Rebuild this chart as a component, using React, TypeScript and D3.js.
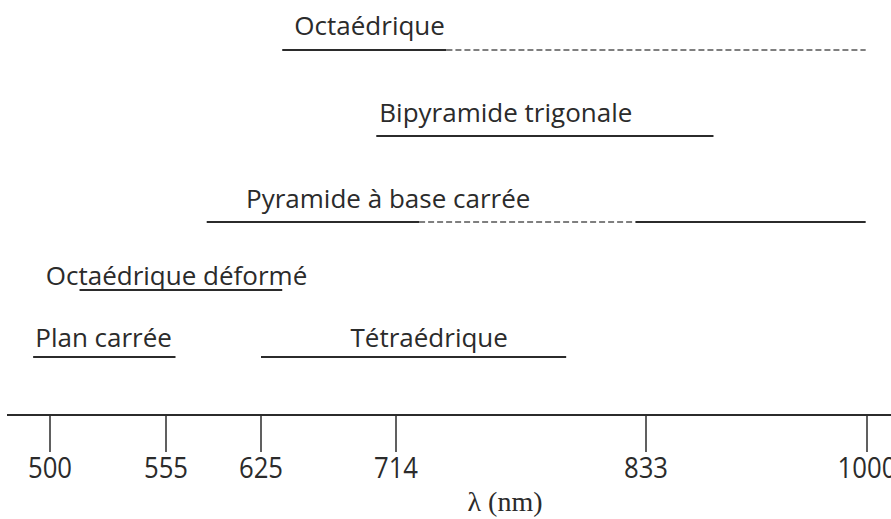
import React from "react";
import * as d3 from "d3";

// wavelength ticks (nm) — axis is not linear, each tick has its own spot
const tickValues = [500, 555, 625, 714, 833, 1000];

// geometries, one row each (last row holds two)
const rows = ["Octaédrique", "Bipyramide trigonale", "Pyramide à base carrée", "Octaédrique déformé", "Plan carrée / Tétraédrique"];

// labels: text, row, start wavelength of text
const labelText = ["Octaédrique", "Bipyramide trigonale", "Pyramide à base carrée", "Octaédrique déformé", "Plan carrée", "Tétraédrique"];
const labelRow = [0, 1, 2, 3, 4, 4];
const labelStart = [647, 703, 614, 498, 493, 684];

// solid ranges (nm)
const solidRow = [0, 1, 2, 2, 3, 4, 4];
const solidFrom = [639, 701, 585, 828, 514, 492, 625];
const solidTo = [738, 884, 725, 999, 639, 562, 795];

// dashed ranges (nm)
const dashRow = [0, 2];
const dashFrom = [738, 725];
const dashTo = [999, 828];

export default function App() {
  const width = 891;
  const height = 519;

  const x = d3.scaleLinear().domain(tickValues).range([50, 166, 261, 396, 646, 867]);
  const lineY = d3.scaleOrdinal<number, number>().domain(d3.range(rows.length)).range([50, 136, 222, 290, 357]);
  const textY = d3.scaleOrdinal<number, number>().domain(d3.range(rows.length)).range([35, 122, 208, 285, 347]);

  const axisY = 415;
  const ink = "#2b2b2b";
  const sans = "'Open Sans', 'Noto Sans', sans-serif";

  return (
    <svg width={width} height={height} style={{ position: "absolute", left: 0, top: 0, background: "#fff" }}>
      {labelText.map((t, i) => (
        <text key={"l" + i} x={x(labelStart[i])} y={textY(labelRow[i])} fontFamily={sans} fontSize={26} fill={ink}>
          {t}
        </text>
      ))}
      {solidFrom.map((f, i) => (
        <line key={"s" + i} x1={x(f)} x2={x(solidTo[i])} y1={lineY(solidRow[i])} y2={lineY(solidRow[i])} stroke={ink} strokeWidth={2} />
      ))}
      {dashFrom.map((f, i) => (
        <line key={"d" + i} x1={x(f)} x2={x(dashTo[i])} y1={lineY(dashRow[i])} y2={lineY(dashRow[i])} stroke="#555" strokeWidth={1.3} strokeDasharray="6,3" />
      ))}

      <line x1={7} x2={width} y1={axisY} y2={axisY} stroke={ink} strokeWidth={2} />
      {tickValues.map((v) => {
        const s = String(v);
        return (
          <g key={v} transform={`translate(${x(v)},0)`}>
            <line y1={axisY} y2={axisY + 37} stroke={ink} strokeWidth={1.5} />
            <text x={-s.length * 7.35} y={478} textLength={s.length * 14.7} lengthAdjust="spacingAndGlyphs" fontFamily={sans} fontSize={28.5} fill={ink}>
              {s}
            </text>
          </g>
        );
      })}
      <text x={505} y={511} textAnchor="middle" fontFamily="'Liberation Serif', 'DejaVu Serif', serif" fontSize={28} fill={ink}>
        λ (nm)
      </text>
    </svg>
  );
}
